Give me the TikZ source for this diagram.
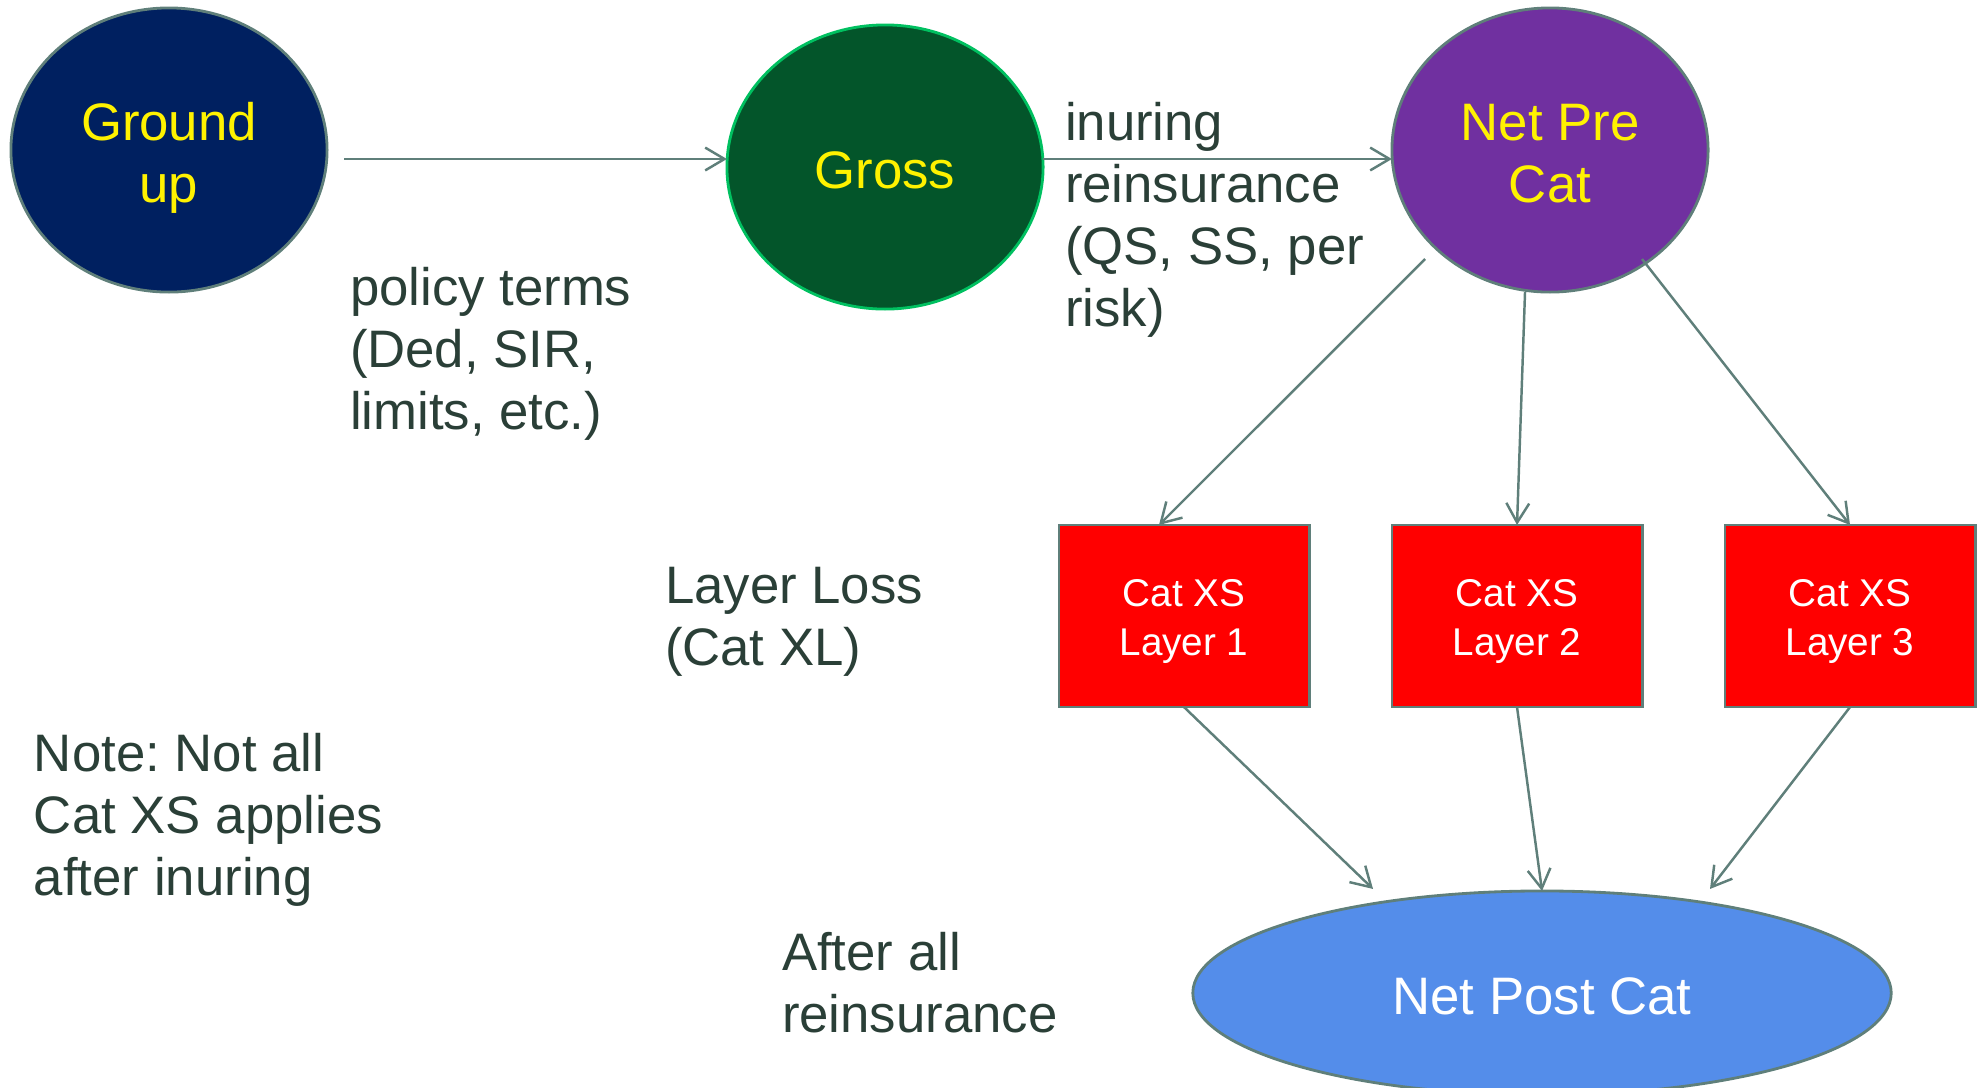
\documentclass[tikz,border=0pt]{standalone}
\usepackage{fontspec}
\setmainfont{Liberation Sans}
\usepackage{tikz}
\usepackage{xcolor}
\usetikzlibrary{positioning,arrows.meta,shapes.geometric,calc}
\definecolor{ink}{HTML}{2A3F37}
\definecolor{edge}{HTML}{5F7F7A}
\definecolor{navy}{HTML}{002060}
\definecolor{forest}{HTML}{03552A}
\definecolor{leaf}{HTML}{00C060}
\definecolor{plum}{HTML}{7030A0}
\definecolor{sky}{HTML}{548DEA}
\newcommand{\ovaltext}[1]{\rule{0pt}{15.4pt}#1\rule[-3.2pt]{0pt}{0pt}}
\newcommand{\layertext}[1]{\rule{0pt}{11.2pt}#1\rule[-2.5pt]{0pt}{0pt}}
\frenchspacing

\begin{document}
\begin{tikzpicture}[x=0.01cm,y=-0.01cm,
    every node/.style={font=\fontsize{15}{17.6}\selectfont,inner sep=0pt,outer sep=0pt},
    oval/.style={ellipse,draw=edge,line width=0.8pt,align=center},
    stage/.style={oval,text=yellow,minimum width=3.16cm,minimum height=2.84cm},
    layer/.style={draw=edge,line width=0.8pt,fill=red,text=white,align=center,minimum width=2.5cm,minimum height=1.82cm,font=\fontsize{11}{13.9}\selectfont},
    note/.style={anchor=north west,align=left,text=ink},
    flow/.style={draw=edge,line width=0.7pt,-{Straight Barb[length=5.5pt,width=6.5pt]}}]
    \useasboundingbox (0,0) rectangle (1983,1087);
    \node[stage,fill=navy] (ground) at (169,150) {\ovaltext{Ground\\up}};
    \node[stage,fill=forest,draw=leaf] (gross) at (885,167) {\ovaltext{Gross}};
    \node[stage,fill=plum] (netpre) at (1550,150) {\ovaltext{Net Pre\\Cat}};
    \node[layer] (layer1) at (1184,616) {\layertext{Cat XS\\Layer 1}};
    \node[layer] (layer2) at (1517,616) {\layertext{Cat XS\\Layer 2}};
    \node[layer] (layer3) at (1850,616) {\layertext{Cat XS\\Layer 3}};
    \node[oval,fill=sky,text=white,minimum width=6.98cm,minimum height=2.04cm] (netpost) at (1542,993) {\ovaltext{Net Post Cat}};
    \node[note] (terms) at (350,262) {\strut policy terms\\(Ded, SIR,\\limits, etc.)};
    \node[note] (inuring) at (1065,97) {\strut inuring\\reinsurance\\(QS, SS, per\\risk)};
    \node[note] (layerloss) at (665,560) {\strut Layer Loss\\(Cat XL)};
    \node[note] (remark) at (34,728) {\strut Note: Not all\\Cat XS applies\\after inuring};
    \node[note] (after) at (782,927) {\strut After all\\reinsurance};
    \draw[flow] ([shift={(17,9)}]ground.east) -- ([shift={(0,-8)}]gross.west);
    \draw[flow] ([shift={(0,-8)}]gross.east) -- ([shift={(0,9)}]netpre.west);
    \draw[flow] ([shift={(-125,109)}]netpre.center) -- ([shift={(-25,0)}]layer1.north);
    \draw[flow] ([shift={(-25,0)}]netpre.south) -- (layer2.north);
    \draw[flow] ([shift={(92,109)}]netpre.center) -- (layer3.north);
    \draw[flow] (layer1.south) -- ([shift={(-169,-2)}]netpost.north);
    \draw[flow] (layer2.south) -- (netpost.north);
    \draw[flow] (layer3.south) -- ([shift={(168,-2)}]netpost.north);
\end{tikzpicture}
\end{document}
